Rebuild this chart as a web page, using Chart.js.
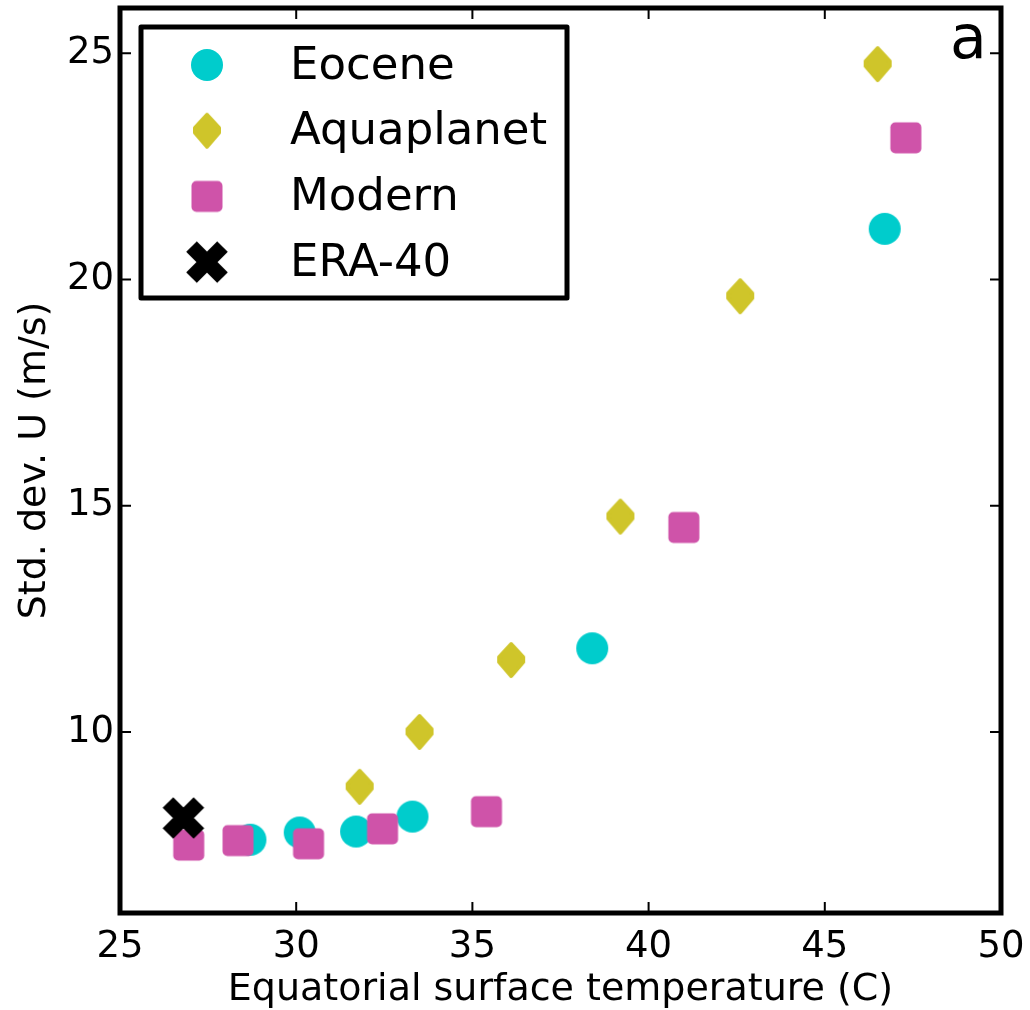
<!DOCTYPE html>
<html>
<head>
<meta charset="utf-8">
<script src="https://cdn.jsdelivr.net/npm/chart.js@4"></script>
<style>
html, body { margin: 0; padding: 0; background: #fff; }
</style>
</head>
<body>
<canvas id="sensChart" width="1030" height="1010"></canvas>
<script>
// values
const eoceneT = [28.7, 30.1, 31.7, 33.3, 38.4, 46.7];
const eoceneU = [7.62, 7.78, 7.8, 8.13, 11.85, 21.12];
const aquaT = [31.8, 33.5, 36.1, 39.2, 42.6, 46.5];
const aquaU = [8.79, 10.0, 11.59, 14.76, 19.63, 24.76];
const modernT = [26.95, 28.35, 30.35, 32.45, 35.4, 41.0, 47.3];
const modernU = [7.5, 7.6, 7.53, 7.86, 8.24, 14.52, 23.13];
const eraT = [26.8];
const eraU = [8.1];
const xTicks = [25, 30, 35, 40, 45, 50];
const yTicks = [10, 15, 20, 25];

const FONT = 'DejaVu Sans';

function pts(xs, ys) {
    return xs.map((x, i) => ({ x: x, y: ys[i] }));
}

// marker images, closer to the matplotlib ones than the built-in styles
function marker(kind, color) {
    const c = document.createElement('canvas');
    c.width = 50; c.height = 50;
    const g = c.getContext('2d');
    g.translate(25, 25);
    g.fillStyle = color;
    g.strokeStyle = color;
    if (kind === 'circle') {
        g.beginPath();
        g.arc(0, 0, 16, 0, Math.PI * 2);
        g.fill();
    } else if (kind === 'diamond') {
        g.lineJoin = 'round';
        g.lineWidth = 4;
        g.beginPath();
        g.moveTo(0, -16); g.lineTo(12, -3); g.lineTo(12, 2); g.lineTo(0, 16);
        g.lineTo(-12, 2); g.lineTo(-12, -3);
        g.closePath();
        g.fill(); g.stroke();
    } else if (kind === 'square') {
        g.beginPath();
        g.roundRect(-15.5, -15.5, 31, 31, 5);
        g.fill();
    } else {
        g.lineWidth = 15;
        g.beginPath();
        g.moveTo(-15.5, -15.5); g.lineTo(15.5, 15.5);
        g.moveTo(15.5, -15.5); g.lineTo(-15.5, 15.5);
        g.stroke();
    }
    return c;
}

const mkEocene = marker('circle', '#00cccc');
const mkAqua = marker('diamond', '#cfc52a');
const mkModern = marker('square', '#cf53a9');
const mkEra = marker('cross', '#000000');

const frame = {
    id: 'frame',
    afterDatasetsDraw(chart) {
        const { ctx, chartArea: a, scales } = chart;
        ctx.save();
        ctx.strokeStyle = '#000';
        ctx.lineWidth = 2;
        ctx.beginPath();
        xTicks.slice(1, -1).forEach(v => {
            const px = scales.x.getPixelForValue(v);
            ctx.moveTo(px, a.bottom); ctx.lineTo(px, a.bottom - 11);
            ctx.moveTo(px, a.top); ctx.lineTo(px, a.top + 11);
        });
        yTicks.forEach(v => {
            const py = scales.y.getPixelForValue(v);
            ctx.moveTo(a.left, py); ctx.lineTo(a.left + 11, py);
            ctx.moveTo(a.right, py); ctx.lineTo(a.right - 11, py);
        });
        ctx.stroke();
        ctx.lineWidth = 5;
        ctx.strokeRect(a.left, a.top, a.right - a.left, a.bottom - a.top);

        // panel letter
        ctx.fillStyle = '#000';
        ctx.font = '60px "' + FONT + '"';
        ctx.textBaseline = 'alphabetic';
        ctx.fillText('a', 950, 58);

        // legend box
        const lx = 141, ly = 27, lw = 426, lh = 271;
        ctx.fillStyle = '#fff';
        ctx.fillRect(lx, ly, lw, lh);
        ctx.lineWidth = 5;
        ctx.lineJoin = 'round';
        ctx.strokeRect(lx, ly, lw, lh);
        ctx.fillStyle = '#000';
        ctx.font = '45px "' + FONT + '"';
        ctx.textBaseline = 'middle';
        chart.data.datasets.forEach((ds, i) => {
            const cy = 65 + i * 65.7;
            ctx.drawImage(ds.pointStyle, 207 - 25, cy - 25);
            ctx.fillText(ds.label, 290, cy + 2);
        });
        ctx.restore();
    }
};

const ctx = document.getElementById('sensChart');
const myChart = new Chart(ctx, {
    type: 'scatter',
    data: {
        datasets: [
            { label: 'Eocene', data: pts(eoceneT, eoceneU), pointStyle: mkEocene, pointRadius: 16, order: 4 },
            { label: 'Aquaplanet', data: pts(aquaT, aquaU), pointStyle: mkAqua, pointRadius: 16, order: 3 },
            { label: 'Modern', data: pts(modernT, modernU), pointStyle: mkModern, pointRadius: 16, order: 2 },
            { label: 'ERA-40', data: pts(eraT, eraU), pointStyle: mkEra, pointRadius: 16, order: 1 }
        ]
    },
    plugins: [frame],
    options: {
        responsive: false,
        animation: false,
        layout: { autoPadding: false, padding: { top: 8, right: 29, left: 0, bottom: 0 } },
        plugins: {
            legend: { display: false },
            tooltip: { enabled: false }
        },
        scales: {
            x: {
                type: 'linear',
                min: 25,
                max: 50,
                afterBuildTicks: s => { s.ticks = xTicks.map(v => ({ value: v })); },
                afterFit: s => { s.height = 97; s.paddingLeft = 0; s.paddingRight = 0; },
                grid: { display: false, drawTicks: false },
                border: { display: false },
                ticks: {
                    color: '#000',
                    padding: 12,
                    font: { family: FONT, size: 37 }
                },
                title: {
                    display: true,
                    text: 'Equatorial surface temperature (C)',
                    color: '#000',
                    font: { family: FONT, size: 38 },
                    padding: { top: 0, bottom: -3 }
                }
            },
            y: {
                type: 'linear',
                min: 6,
                max: 26,
                afterBuildTicks: s => { s.ticks = yTicks.map(v => ({ value: v })); },
                afterFit: s => { s.width = 120; s.paddingTop = 0; s.paddingBottom = 0; },
                grid: { display: false, drawTicks: false },
                border: { display: false },
                ticks: {
                    color: '#000',
                    padding: 6,
                    font: { family: FONT, size: 37 }
                },
                title: {
                    display: true,
                    text: 'Std. dev. U (m/s)',
                    color: '#000',
                    font: { family: FONT, size: 38 },
                    padding: { top: 12, bottom: 0 }
                }
            }
        }
    }
});
</script>
</body>
</html>
